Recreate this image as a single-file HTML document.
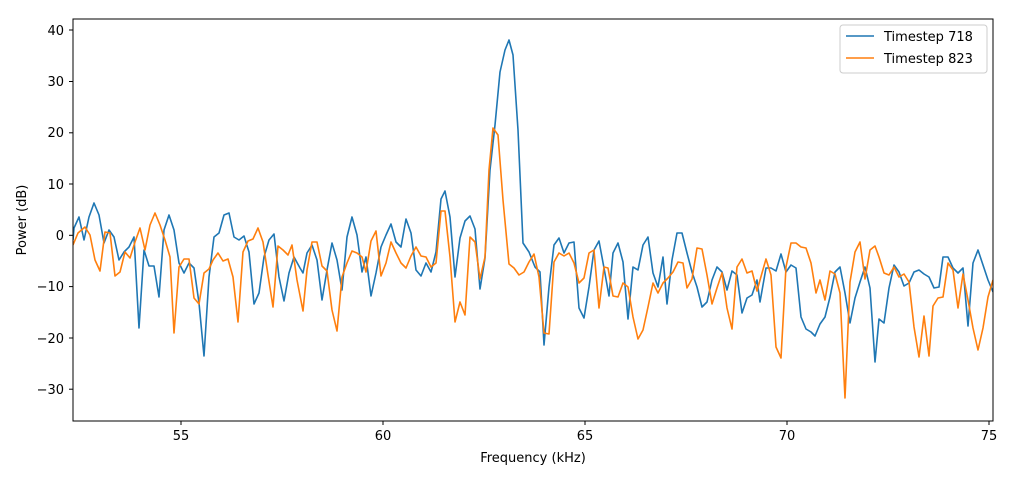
<!DOCTYPE html>
<html><head><style>body{margin:0;background:#fff}svg{display:block;font-family:"DejaVu Sans","Liberation Sans",sans-serif}</style></head><body>
<svg width="1014" height="480" viewBox="0 0 1014 480" xmlns="http://www.w3.org/2000/svg">
<defs><clipPath id="c"><rect x="73" y="19" width="920" height="402"/></clipPath></defs>
<rect width="1014" height="480" fill="#fff"/>
<g clip-path="url(#c)" fill="none" stroke-width="1.6" stroke-linejoin="round">
<polyline stroke="#1f77b4" points="73,240 74,228 79,217 84,240 89,217 94,203 99,215 104,243 109,230 114,237 119,260 124,252 129,247 134,237 139,328 144,250 149,266 154,266 159,297 164,230 169,215 174,230 179,263 184,273 189,263 194,268 199,303 204,356 209,277 214,237 219,233 224,215 229,213 234,237 239,240 244,236 249,252 254,304 259,293 264,257 269,240 274,234 279,277 284,301 289,273 294,257 300,268 303,273 307,253 312,245 317,260 322,300 327,270 332,243 337,260 342,290 347,237 352,217 357,235 362,272 366,257 371,296 376,273 381,247 386,235 391,224 396,242 401,247 406,219 411,233 416,270 421,276 426,263 431,272 436,252 441,199 445,191 450,217 455,277 460,238 465,221 470,216 475,229 480,289 485,258 490,170 495,125 500,72 505,50 509,40 513,55 518,130 523,243 529,252 535,267 540,272 544,345 549,287 554,245 559,238 564,253 569,243 574,242 579,308 584,318 589,287 594,250 599,241 604,268 609,296 613,253 618,243 623,262 628,319 633,267 638,270 643,245 648,237 653,273 658,287 663,257 667,304 672,260 677,233 682,233 687,253 692,272 697,287 702,307 707,302 712,280 717,267 722,272 727,290 732,271 737,275 742,313 747,298 752,295 757,280 760,302 766,268 771,268 776,271 781,254 786,272 791,265 796,268 801,317 806,329 811,332 815,336 820,324 825,317 830,297 835,272 840,267 845,293 850,323 855,298 860,282 865,267 870,288 875,362 879,319 884,323 889,288 894,265 899,272 904,286 909,283 914,272 919,270 924,274 929,277 934,288 939,287 943,257 948,257 953,268 958,273 963,268 968,326 973,263 978,250 983,265 988,280 993,292"/>
<polyline stroke="#ff7f0e" points="73,245 78,233 85,227 90,235 95,260 100,271 105,232 110,233 115,276 120,272 125,252 130,258 135,242 140,228 145,250 150,225 155,213 160,225 165,240 170,257 174,333 179,267 184,259 189,259 194,298 199,304 204,273 209,269 213,260 218,253 223,261 228,259 233,277 238,322 243,252 248,241 253,239 258,228 263,242 268,275 273,307 278,246 283,250 288,255 292,245 297,280 303,311 307,270 312,242 317,242 322,266 327,271 332,310 337,331 342,277 347,263 352,251 357,253 362,257 366,272 371,241 376,231 381,276 386,263 391,242 396,253 401,263 406,268 411,256 416,247 421,256 426,257 431,267 436,263 441,211 445,211 450,257 455,322 460,302 465,315 470,237 475,242 480,279 485,257 489,170 493,128 498,135 503,200 509,264 514,268 519,275 524,272 529,262 534,254 539,277 544,333 549,334 554,262 559,253 564,256 569,253 574,263 579,283 584,278 589,253 594,250 599,308 604,267 608,268 613,296 618,297 623,283 628,287 633,317 638,339 643,330 648,307 653,283 658,293 663,283 668,278 673,272 678,262 683,263 687,288 692,279 697,248 702,249 707,275 712,304 717,288 722,273 727,308 732,329 737,267 742,259 747,273 752,271 757,291 762,273 766,259 771,275 776,347 781,358 786,267 791,243 796,243 801,247 806,248 811,263 816,293 820,280 825,300 830,271 835,274 840,293 845,398 850,282 855,252 860,242 865,279 870,250 875,246 879,257 884,273 889,275 894,267 899,277 904,274 909,282 914,327 919,357 924,316 929,356 933,306 938,298 943,297 948,263 953,270 958,308 963,274 968,300 973,328 978,350 983,328 988,297 993,280"/>
</g>
<rect x="73" y="19" width="920" height="402" fill="none" stroke="#000" stroke-width="1"/>
<g stroke="#000" stroke-width="1">
<line x1="181" y1="421" x2="181" y2="425"/><line x1="383" y1="421" x2="383" y2="425"/><line x1="585" y1="421" x2="585" y2="425"/><line x1="787" y1="421" x2="787" y2="425"/><line x1="989" y1="421" x2="989" y2="425"/>
<line x1="69" y1="30" x2="73" y2="30"/><line x1="69" y1="81.5" x2="73" y2="81.5"/><line x1="69" y1="132.8" x2="73" y2="132.8"/><line x1="69" y1="184" x2="73" y2="184"/><line x1="69" y1="235.3" x2="73" y2="235.3"/><line x1="69" y1="286.6" x2="73" y2="286.6"/><line x1="69" y1="338" x2="73" y2="338"/><line x1="69" y1="389.2" x2="73" y2="389.2"/>
</g>
<g font-size="13" fill="#000">
<g text-anchor="middle"><text x="181" y="440">55</text><text x="383" y="440">60</text><text x="585" y="440">65</text><text x="787" y="440">70</text><text x="989" y="440">75</text>
<text x="533" y="462">Frequency (kHz)</text></g>
<g text-anchor="end"><text x="64" y="35">40</text><text x="64" y="86">30</text><text x="64" y="137">20</text><text x="64" y="189">10</text><text x="64" y="240">0</text><text x="64" y="291">−10</text><text x="64" y="343">−20</text><text x="64" y="394">−30</text></g>
<text transform="translate(26,220) rotate(-90)" text-anchor="middle">Power (dB)</text>
</g>
<rect x="840" y="25" width="147" height="48" rx="3" fill="#fff" stroke="#ccc"/>
<line x1="846" y1="36" x2="874" y2="36" stroke="#1f77b4" stroke-width="1.6"/>
<line x1="846" y1="58" x2="874" y2="58" stroke="#ff7f0e" stroke-width="1.6"/>
<g font-size="13"><text x="884" y="41">Timestep 718</text><text x="884" y="63">Timestep 823</text></g>
</svg>
</body></html>
